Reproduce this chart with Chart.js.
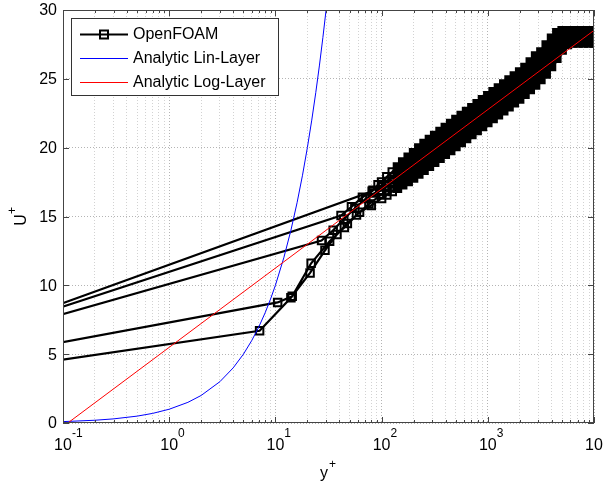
<!DOCTYPE html>
<html>
<head>
<meta charset="utf-8">
<title>Law of the wall</title>
<script src="https://cdn.jsdelivr.net/npm/chart.js@4.4.1/dist/chart.umd.min.js"></script>
<style>
  html, body { margin: 0; padding: 0; background: #fff; }
</style>
</head>
<body>
<canvas id="wall-chart" width="603" height="489"></canvas>
<script>
// ---- data ----
const xTickValues = [0.1, 1, 10, 100, 1000, 10000];
const xTickExponents = ['-1', '0', '1', '2', '3', '4'];
const yTickValues = [0, 5, 10, 15, 20, 25, 30];

// each OpenFOAM profile: wall point (far left, off the axis) + near-wall cells
const p1Near = [[8.7e-6, 0], [7.1, 6.7], [14.0, 9.1], [21.2, 10.9], [29.3, 12.54], [38, 13.7], [47.6, 14.5], [62, 15.3], [80, 15.8]];
const p2Near = [[7.9e-6, 0], [10.5, 8.76], [14.4, 9.2], [21.7, 11.6], [32.4, 13.2], [44.6, 14.2], [58, 15.1], [76, 15.9]];
const p3Near = [[2.5e-5, 0], [27.2, 13.25], [35, 14.0], [44, 14.8], [56, 15.6], [71, 16.3], [86, 16.7]];
const p4Near = [[4.5e-5, 0], [41.5, 15.07], [52, 15.7], [66, 16.4], [83, 16.9]];
const p5Near = [[7.5e-5, 0], [81.5, 16.83], [92.6, 17.3]];

// outer part of the profiles (the thick black band)
const bandYPlus = [100, 112, 126, 141, 158, 178, 200, 224, 251, 282, 316, 355, 398, 447, 501, 562, 631, 708, 794, 891,
  1000, 1122, 1259, 1413, 1585, 1778, 1995, 2239, 2512, 2818, 3162, 3548, 3981, 4467, 5012, 5623, 6310, 7079, 7943, 8913, 10000];
const p1Band = [16.31, 16.56, 16.81, 17.06, 17.31, 17.55, 17.79, 18.08, 18.36, 18.65, 18.94, 19.23, 19.52, 19.80, 20.09, 20.38, 20.67, 20.95, 21.24, 21.53,
  21.82, 22.11, 22.39, 22.68, 22.97, 23.26, 23.54, 23.88, 24.22, 24.56, 24.95, 25.35, 25.90, 26.50, 27.10, 27.50, 27.60, 27.60, 27.60, 27.60, 27.60];
const p2Band = [16.61, 16.89, 17.17, 17.45, 17.73, 17.99, 18.26, 18.56, 18.85, 19.14, 19.43, 19.72, 20.01, 20.29, 20.58, 20.87, 21.16, 21.44, 21.73, 22.02,
  22.31, 22.60, 22.88, 23.17, 23.46, 23.75, 24.03, 24.37, 24.72, 25.09, 25.45, 25.88, 26.42, 26.97, 27.45, 27.72, 27.80, 27.80, 27.80, 27.80, 27.80];
const p3Band = [16.91, 17.22, 17.53, 17.83, 18.14, 18.43, 18.72, 19.03, 19.34, 19.63, 19.92, 20.21, 20.50, 20.78, 21.07, 21.36, 21.65, 21.93, 22.22, 22.51,
  22.80, 23.09, 23.37, 23.66, 23.95, 24.24, 24.52, 24.86, 25.22, 25.61, 25.95, 26.40, 26.93, 27.43, 27.80, 27.95, 28.00, 28.00, 28.00, 28.00, 28.00];
const p4Band = [17.21, 17.55, 17.89, 18.22, 18.55, 18.87, 19.18, 19.51, 19.83, 20.12, 20.41, 20.70, 20.99, 21.27, 21.56, 21.85, 22.14, 22.42, 22.71, 23.00,
  23.29, 23.58, 23.86, 24.15, 24.44, 24.73, 25.01, 25.35, 25.72, 26.14, 26.45, 26.93, 27.44, 27.89, 28.15, 28.25, 28.25, 28.25, 28.25, 28.25, 28.25];
const p5Band = [17.51, 17.88, 18.24, 18.60, 18.96, 19.30, 19.64, 19.98, 20.31, 20.60, 20.89, 21.18, 21.47, 21.75, 22.04, 22.33, 22.62, 22.90, 23.19, 23.48,
  23.77, 24.06, 24.34, 24.63, 24.92, 25.21, 25.49, 25.83, 26.22, 26.66, 26.95, 27.45, 27.95, 28.35, 28.50, 28.50, 28.50, 28.50, 28.50, 28.50, 28.50];

// analytic laws
const linYPlus = [0.1, 0.2, 0.3, 0.5, 0.7, 1, 1.5, 2, 3, 4, 5, 6, 7, 8, 9, 10, 12, 14, 16, 18, 20, 22, 24, 26, 28, 30];
const linU     = [0.1, 0.2, 0.3, 0.5, 0.7, 1, 1.5, 2, 3, 4, 5, 6, 7, 8, 9, 10, 12, 14, 16, 18, 20, 22, 24, 26, 28, 30];
const logYPlus = [0.1, 10000];
const logU     = [-0.26, 28.52];

// ---- build datasets ----
const profiles = [[p1Near, p1Band], [p2Near, p2Band], [p3Near, p3Band], [p4Near, p4Band], [p5Near, p5Band]];
const foamPoints = [];
profiles.forEach(([near, band]) => {
    near.forEach(([x, y]) => foamPoints.push({ x, y }));
    bandYPlus.forEach((x, i) => foamPoints.push({ x, y: band[i] }));
    foamPoints.push({ x: 10000, y: null }); // break between profiles
});
const linPoints = linYPlus.map((x, i) => ({ x, y: linU[i] }));
const logPoints = logYPlus.map((x, i) => ({ x, y: logU[i] }));

// log grid: 1..9 x 10^k
const xGridValues = [];
for (let e = -1; e < 4; e++) {
    for (let m = 1; m < 10; m++) xGridValues.push(+(m * Math.pow(10, e)).toPrecision(3));
}
xGridValues.push(10000);

const isDecade = v => Math.abs(Math.log10(v) - Math.round(Math.log10(v))) < 1e-6;
const FONT = '"Liberation Sans", Arial, Helvetica, sans-serif';

// frame, ticks, labels and legend drawn MATLAB style
const matlabAxes = {
    id: 'matlabAxes',
    afterDatasetsDraw(chart) {
        const { ctx, chartArea: a, scales: { x, y } } = chart;
        ctx.save();

        ctx.strokeStyle = '#444';
        ctx.lineWidth = 1;
        ctx.strokeRect(Math.round(a.left) + 0.5, Math.round(a.top) + 0.5,
            Math.round(a.right - a.left) - 1, Math.round(a.bottom - a.top) - 1);

        ctx.beginPath();
        xGridValues.forEach(v => {
            const px = Math.round(x.getPixelForValue(v)) + 0.5;
            const len = isDecade(v) ? 6 : 3;
            ctx.moveTo(px, a.bottom); ctx.lineTo(px, a.bottom - len);
            ctx.moveTo(px, a.top); ctx.lineTo(px, a.top + len);
        });
        yTickValues.forEach(v => {
            const py = Math.round(y.getPixelForValue(v)) + 0.5;
            ctx.moveTo(a.left, py); ctx.lineTo(a.left + 6, py);
            ctx.moveTo(a.right, py); ctx.lineTo(a.right - 6, py);
        });
        ctx.stroke();

        // tick labels
        ctx.fillStyle = '#000';
        ctx.font = '16px ' + FONT;
        ctx.textAlign = 'right';
        ctx.textBaseline = 'middle';
        yTickValues.forEach(v => ctx.fillText(String(v), a.left - 6, y.getPixelForValue(v) + 1));

        xTickValues.forEach((v, i) => {
            const px = x.getPixelForValue(v);
            ctx.font = '16px ' + FONT;
            ctx.textAlign = 'center';
            ctx.textBaseline = 'alphabetic';
            ctx.fillText('10', px, a.bottom + 27);
            const w = ctx.measureText('10').width;
            ctx.font = '12px ' + FONT;
            ctx.textAlign = 'left';
            ctx.fillText(xTickExponents[i], px + w / 2, a.bottom + 14);
        });

        // axis titles
        ctx.font = '16px ' + FONT;
        ctx.textAlign = 'center';
        ctx.fillText('y', 324, 478);
        ctx.font = '12px ' + FONT;
        ctx.textAlign = 'left';
        ctx.fillText('+', 329, 468);

        ctx.translate(26, 220);
        ctx.rotate(-Math.PI / 2);
        ctx.font = '16px ' + FONT;
        ctx.textAlign = 'center';
        ctx.fillText('U', 0, 0);
        ctx.font = '12px ' + FONT;
        ctx.textAlign = 'left';
        ctx.fillText('+', 6, -10);
        ctx.setTransform(1, 0, 0, 1, 0, 0);

        // legend box
        ctx.fillStyle = '#fff';
        ctx.fillRect(71, 18, 207, 77);
        ctx.strokeStyle = '#333';
        ctx.lineWidth = 1;
        ctx.strokeRect(71.5, 18.5, 207, 77);
        const items = [
            { label: 'OpenFOAM', color: '#000', width: 2.2, y: 34, marker: true },
            { label: 'Analytic Lin-Layer', color: '#0000ff', width: 1, y: 58 },
            { label: 'Analytic Log-Layer', color: '#ff0000', width: 1, y: 82 }
        ];
        items.forEach(it => {
            ctx.strokeStyle = it.color;
            ctx.lineWidth = it.width;
            ctx.beginPath();
            ctx.moveTo(80, it.y + 0.5); ctx.lineTo(128, it.y + 0.5);
            ctx.stroke();
            if (it.marker) {
                ctx.lineWidth = 2;
                ctx.strokeRect(100, it.y - 3.5, 8, 8);
            }
            ctx.fillStyle = '#000';
            ctx.font = '16px ' + FONT;
            ctx.textAlign = 'left';
            ctx.textBaseline = 'middle';
            ctx.fillText(it.label, 133, it.y + 1);
        });

        ctx.restore();
    }
};

const ctx = document.getElementById('wall-chart').getContext('2d');
new Chart(ctx, {
    type: 'line',
    data: {
        datasets: [{
            label: 'OpenFOAM',
            data: foamPoints,
            borderColor: '#000',
            borderWidth: 2.2,
            pointStyle: 'rect',
            pointRadius: 5.3,
            pointBorderWidth: 2,
            pointBorderColor: '#000',
            // the band of overlapping cells reads as solid black
            pointBackgroundColor: c => (c.raw && c.raw.x >= 130) ? '#000' : 'rgba(0,0,0,0)',
            spanGaps: false,
            order: 3
        }, {
            label: 'Analytic Lin-Layer',
            data: linPoints,
            borderColor: '#0000ff',
            borderWidth: 1,
            pointRadius: 0,
            order: 2
        }, {
            label: 'Analytic Log-Layer',
            data: logPoints,
            borderColor: '#ff0000',
            borderWidth: 1,
            pointRadius: 0,
            order: 1
        }]
    },
    options: {
        responsive: false,
        animation: false,
        devicePixelRatio: 1,
        layout: { padding: { left: 63, top: 10, right: 9, bottom: 66 } },
        plugins: {
            legend: { display: false },
            tooltip: { enabled: false }
        },
        scales: {
            x: {
                type: 'logarithmic',
                min: 0.1,
                max: 10000,
                afterBuildTicks: scale => {
                    scale.ticks = xGridValues.map(v => ({ value: v, major: isDecade(v) }));
                },
                ticks: { display: false, autoSkip: false },
                grid: {
                    drawTicks: false,
                    color: c => (c.tick && isDecade(c.tick.value)) ? 'rgba(130,130,130,0.6)' : 'rgba(165,165,165,0.5)',
                    lineWidth: 1
                },
                border: { display: false, dash: [1, 2] }
            },
            y: {
                type: 'linear',
                min: 0,
                max: 30,
                afterBuildTicks: scale => {
                    scale.ticks = yTickValues.map(v => ({ value: v }));
                },
                ticks: { display: false },
                grid: { drawTicks: false, color: 'rgba(130,130,130,0.6)', lineWidth: 1 },
                border: { display: false, dash: [1, 2] }
            }
        }
    },
    plugins: [matlabAxes]
});
</script>
</body>
</html>
